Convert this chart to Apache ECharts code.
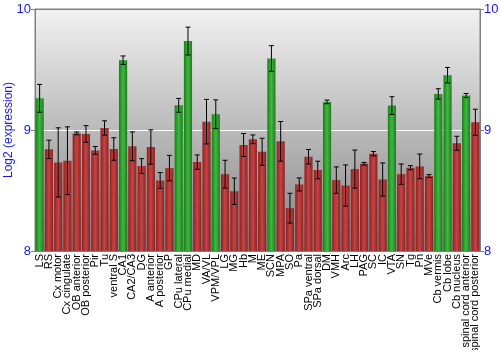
<!DOCTYPE html>
<html><head><meta charset="utf-8">
<script src="https://cdn.jsdelivr.net/npm/echarts@6/dist/echarts.min.js"></script>
<style>html,body{margin:0;padding:0;background:#fff}#c{width:500px;height:350px}</style>
</head><body><div id="c"></div>
<script>
var categories = ["LS","RS","Cx motor","Cx cingulate","OB anterior","OB posterior","Pir","Tu","ventral S","CA1","CA2/CA3","DG","A anterior","A posterior","GP","CPu lateral","CPu medial","MD","VA/VL","VPM/VPL","LG","MG","Hb","M","ME","SCN","MPA","SO","Pa","SPa ventral","SPa dorsal","DM","VMH","Arc","LH","PAG","SC","IC","VTA","SN","Tg","Pn","MVe","Cb vermis","Cb lobe","Cb nucleus","spinal cord anterior","spinal cord posterior"];
var values = [9.262,8.840,8.732,8.746,8.972,8.967,8.831,9.017,8.843,9.577,8.865,8.702,8.859,8.583,8.685,9.204,9.735,8.735,9.069,9.130,8.635,8.494,8.876,8.923,8.820,9.591,8.906,8.354,8.550,8.779,8.669,9.232,8.586,8.541,8.677,8.721,8.804,8.591,9.202,8.635,8.688,8.699,8.619,9.298,9.453,8.890,9.285,9.064];
var errors = [0.115,0.076,0.286,0.280,0.011,0.069,0.032,0.059,0.093,0.035,0.119,0.061,0.142,0.065,0.105,0.057,0.115,0.059,0.184,0.119,0.115,0.109,0.095,0.036,0.112,0.106,0.164,0.123,0.054,0.060,0.073,0.015,0.109,0.170,0.157,0.011,0.018,0.137,0.073,0.084,0.017,0.102,0.012,0.043,0.064,0.058,0.017,0.108];
var highlighted = ["LS","CA1","CPu lateral","CPu medial","VPM/VPL","SCN","DM","VTA","Cb vermis","Cb lobe","spinal cord anterior"];
var yTicks = [8, 9, 10];

var chart = echarts.init(document.getElementById('c'), null, {renderer:'canvas'});
function grad(edge, mid){
  return new echarts.graphic.LinearGradient(0,0,1,0,[{offset:0,color:edge},{offset:0.5,color:mid},{offset:1,color:edge}]);
}
var greenFill = grad('#1f7a1f','#3cbc3c');
var redFill = grad('#8c2222','#c64444');
var barData = values.map(function(v,i){
  return {value:v, itemStyle:{color: highlighted.indexOf(categories[i])>=0 ? greenFill : redFill}};
});
var errData = values.map(function(v,i){ return [i, v-errors[i], v+errors[i]]; });
var yAxisBase = {
  type:'value', min:yTicks[0], max:yTicks[yTicks.length-1], interval:1,
  axisLine:{show:true, lineStyle:{color:'#808080'}},
  axisTick:{show:true, length:4, lineStyle:{color:'#808080'}},
  axisLabel:{color:'#1515ff', fontSize:13, fontFamily:'Liberation Sans, Arial, sans-serif', margin:4}
};
chart.setOption({
  animation:false,
  grid:{left:35, right:20, top:9, bottom:99, show:true, borderColor:'#808080', borderWidth:1,
    outerBoundsMode:'none', containLabel:false,
    backgroundColor:new echarts.graphic.LinearGradient(0,0,0,1,[{offset:0,color:'#f2f2f2'},{offset:1,color:'#828282'}])},
  xAxis:{type:'category', data:categories,
    axisLine:{show:false}, axisTick:{show:false},
    axisLabel:{rotate:90, interval:0, color:'#000', fontSize:11, fontFamily:'Liberation Sans, Arial, sans-serif', margin:3}},
  yAxis:[
    Object.assign({}, yAxisBase, {position:'left', name:'Log2 (expression)', nameLocation:'middle', nameGap:20,
      nameMoveOverlap:false,
      nameTextStyle:{color:'#1515ff', fontSize:12, fontFamily:'Liberation Sans, Arial, sans-serif'},
      splitLine:{show:true, lineStyle:{color:['#808080','#ffffff','#808080'], width:1}}}),
    Object.assign({}, yAxisBase, {position:'right', splitLine:{show:false}})
  ],
  series:[
    {type:'bar', data:barData, barCategoryGap:'12%', yAxisIndex:0},
    {type:'custom', yAxisIndex:0, data:errData, z:10,
      renderItem:function(params, api){
        var x = api.value(0);
        var lo = api.coord([x, api.value(1)]);
        var hi = api.coord([x, api.value(2)]);
        var w = 2.5;
        var st = {stroke:'#000', lineWidth:1};
        return {type:'group', children:[
          {type:'line', shape:{x1:lo[0], y1:lo[1], x2:hi[0], y2:hi[1]}, style:st},
          {type:'line', shape:{x1:lo[0]-w, y1:lo[1], x2:lo[0]+w, y2:lo[1]}, style:st},
          {type:'line', shape:{x1:hi[0]-w, y1:hi[1], x2:hi[0]+w, y2:hi[1]}, style:st}
        ]};
      }}
  ]
});
</script></body></html>
